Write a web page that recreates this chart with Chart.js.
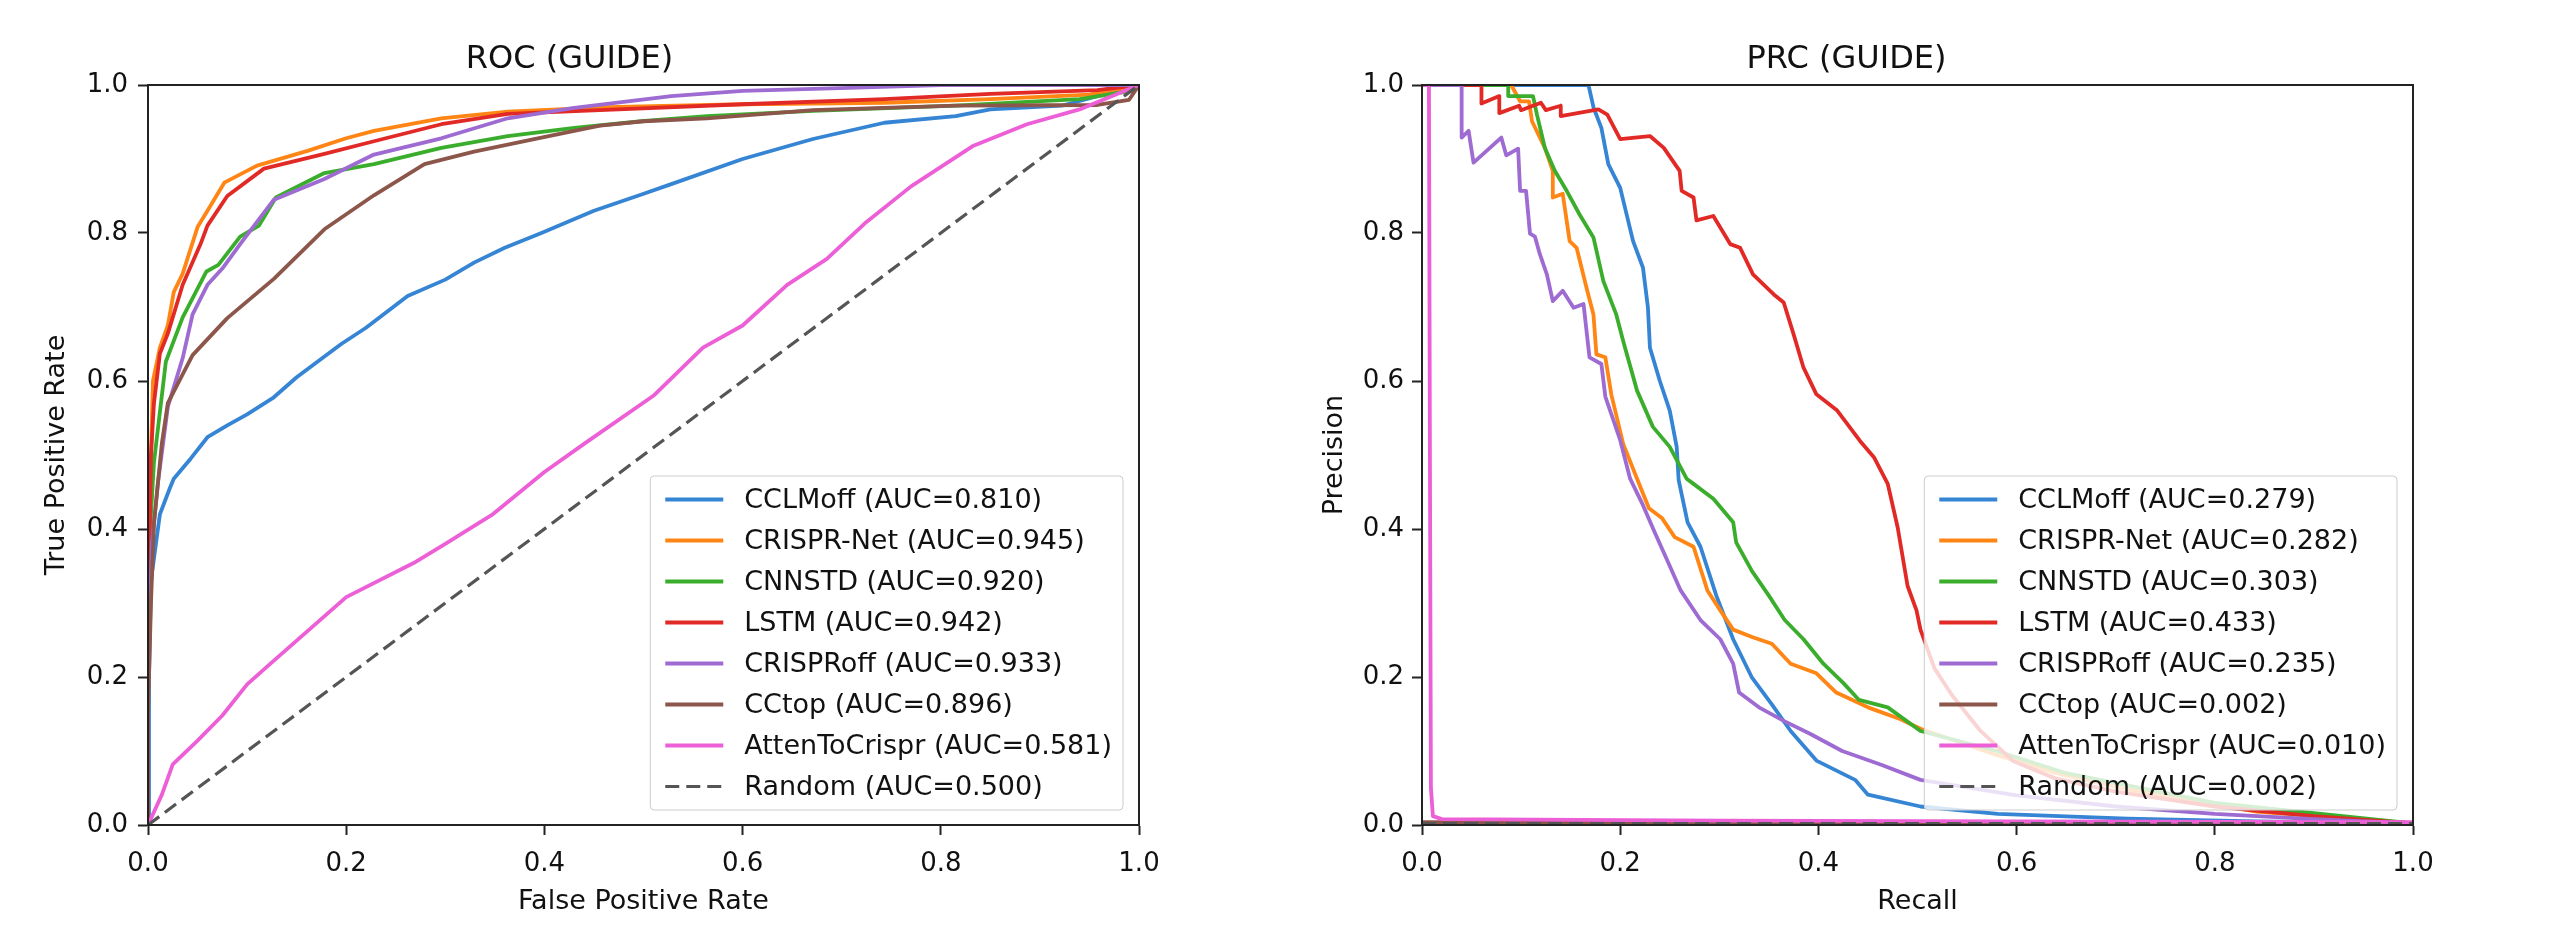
<!DOCTYPE html>
<html>
<head>
<meta charset="utf-8">
<script src="https://cdn.jsdelivr.net/npm/chart.js@4.4.1/dist/chart.umd.min.js"></script>
<style>
html, body { margin: 0; padding: 0; background: #fff; }
#wrap { position: relative; width: 2560px; height: 937px; background: #fff; }
canvas { position: absolute; top: 0; }
#rocChart { left: 0; }
#prcChart { left: 1280px; }
</style>
</head>
<body>
<div id="wrap">
  <canvas id="rocChart" width="1280" height="937"></canvas>
  <canvas id="prcChart" width="1280" height="937"></canvas>
</div>
<script>
// Donnees
const models = ["CCLMoff", "CRISPR-Net", "CNNSTD", "LSTM", "CRISPRoff", "CCtop", "AttenToCrispr", "Random"];
const rocAuc = ["0.810", "0.945", "0.920", "0.942", "0.933", "0.896", "0.581", "0.500"];
const prcAuc = ["0.279", "0.282", "0.303", "0.433", "0.235", "0.002", "0.010", "0.002"];
const tickValues = [0, 0.2, 0.4, 0.6, 0.8, 1.0];

// ROC : [FPR, TPR]
const rocCCLMoff = [[0,0],[0.001,0.2],[0.003,0.33],[0.006,0.36],[0.012,0.42],[0.022,0.455],[0.026,0.468],[0.043,0.495],[0.06,0.524],[0.08,0.54],[0.1,0.555],[0.127,0.578],[0.15,0.605],[0.195,0.65],[0.22,0.672],[0.262,0.715],[0.3,0.737],[0.329,0.76],[0.36,0.78],[0.397,0.8],[0.45,0.83],[0.498,0.852],[0.528,0.866],[0.6,0.9],[0.671,0.927],[0.743,0.949],[0.815,0.958],[0.85,0.967],[0.922,0.972],[0.958,0.985],[1,1]];
const rocCRISPRNet = [[0,0],[0,0.25],[0.002,0.45],[0.005,0.6],[0.012,0.645],[0.02,0.675],[0.026,0.72],[0.035,0.745],[0.05,0.808],[0.06,0.83],[0.077,0.868],[0.11,0.891],[0.161,0.911],[0.2,0.928],[0.228,0.938],[0.296,0.955],[0.363,0.964],[0.464,0.97],[0.6,0.974],[0.743,0.976],[0.85,0.981],[0.95,0.987],[1,1]];
const rocCNNSTD = [[0,0],[0,0.2],[0.003,0.42],[0.006,0.49],[0.018,0.626],[0.035,0.686],[0.059,0.748],[0.071,0.757],[0.093,0.795],[0.112,0.81],[0.129,0.848],[0.178,0.881],[0.228,0.893],[0.296,0.915],[0.363,0.931],[0.43,0.942],[0.498,0.951],[0.564,0.958],[0.671,0.965],[0.815,0.972],[0.94,0.981],[0.993,0.992],[1,1]];
const rocLSTM = [[0,0],[0,0.25],[0.003,0.5],[0.006,0.57],[0.012,0.637],[0.02,0.664],[0.035,0.73],[0.053,0.785],[0.06,0.81],[0.08,0.85],[0.117,0.887],[0.178,0.907],[0.228,0.924],[0.296,0.947],[0.363,0.961],[0.456,0.966],[0.6,0.974],[0.743,0.981],[0.85,0.988],[0.958,0.993],[1,1]];
const rocCRISPRoff = [[0,0],[0,0.2],[0.004,0.38],[0.01,0.462],[0.02,0.565],[0.035,0.631],[0.045,0.69],[0.06,0.73],[0.075,0.752],[0.093,0.785],[0.127,0.845],[0.178,0.873],[0.228,0.906],[0.296,0.928],[0.363,0.955],[0.43,0.969],[0.528,0.985],[0.6,0.992],[0.707,0.996],[0.8,1],[1,1]];
const rocCCtop = [[0,0],[0,0.15],[0.003,0.3],[0.006,0.407],[0.014,0.516],[0.02,0.57],[0.045,0.635],[0.08,0.685],[0.127,0.738],[0.178,0.805],[0.228,0.851],[0.279,0.893],[0.329,0.91],[0.397,0.929],[0.456,0.945],[0.5,0.951],[0.564,0.955],[0.671,0.966],[0.815,0.972],[0.958,0.973],[0.99,0.98],[1,1]];
const rocAttenToCrispr = [[0,0],[0.014,0.041],[0.025,0.082],[0.05,0.114],[0.075,0.148],[0.1,0.19],[0.121,0.215],[0.2,0.308],[0.268,0.354],[0.3,0.38],[0.347,0.419],[0.4,0.477],[0.44,0.515],[0.51,0.58],[0.56,0.645],[0.6,0.675],[0.645,0.73],[0.685,0.765],[0.725,0.815],[0.77,0.863],[0.833,0.918],[0.887,0.947],[0.94,0.967],[1,1]];
const rocRandom = [[0,0],[1,1]];

// PRC : [Recall, Precision]
const prcCCLMoff = [[0,1],[0.168,1],[0.173,0.97],[0.181,0.942],[0.188,0.893],[0.2,0.861],[0.213,0.789],[0.223,0.753],[0.228,0.699],[0.23,0.645],[0.24,0.6],[0.25,0.56],[0.257,0.511],[0.259,0.466],[0.268,0.409],[0.281,0.376],[0.297,0.31],[0.314,0.251],[0.333,0.199],[0.353,0.163],[0.372,0.127],[0.398,0.087],[0.437,0.061],[0.45,0.041],[0.503,0.025],[0.581,0.015],[0.712,0.0085],[0.842,0.005],[1,0.002]];
const prcCRISPRNet = [[0,1],[0.09,1],[0.099,0.978],[0.108,0.978],[0.111,0.951],[0.124,0.915],[0.132,0.884],[0.132,0.848],[0.142,0.853],[0.149,0.789],[0.156,0.78],[0.166,0.726],[0.173,0.69],[0.176,0.636],[0.185,0.632],[0.191,0.582],[0.203,0.515],[0.217,0.468],[0.229,0.428],[0.242,0.415],[0.255,0.389],[0.274,0.376],[0.288,0.317],[0.301,0.29],[0.314,0.264],[0.333,0.254],[0.353,0.245],[0.372,0.218],[0.398,0.205],[0.418,0.179],[0.45,0.159],[0.483,0.143],[0.503,0.13],[0.581,0.094],[0.646,0.068],[0.712,0.048],[0.842,0.018],[1,0.002]];
const prcCNNSTD = [[0,1],[0.087,1],[0.087,0.985],[0.112,0.985],[0.116,0.96],[0.124,0.915],[0.134,0.884],[0.146,0.857],[0.159,0.825],[0.173,0.794],[0.183,0.735],[0.196,0.69],[0.203,0.654],[0.217,0.587],[0.233,0.538],[0.25,0.511],[0.267,0.468],[0.274,0.461],[0.294,0.441],[0.314,0.409],[0.317,0.382],[0.333,0.343],[0.35,0.31],[0.366,0.277],[0.385,0.251],[0.405,0.218],[0.425,0.192],[0.441,0.169],[0.47,0.159],[0.503,0.127],[0.58,0.1],[0.65,0.07],[0.8,0.03],[1,0.002]];
const prcLSTM = [[0,1],[0.06,1],[0.06,0.975],[0.078,0.985],[0.078,0.962],[0.098,0.972],[0.1,0.966],[0.12,0.976],[0.125,0.966],[0.14,0.972],[0.14,0.958],[0.178,0.967],[0.187,0.96],[0.2,0.927],[0.23,0.931],[0.244,0.915],[0.26,0.884],[0.262,0.857],[0.274,0.848],[0.277,0.817],[0.294,0.823],[0.311,0.785],[0.321,0.78],[0.334,0.744],[0.355,0.717],[0.365,0.706],[0.375,0.663],[0.385,0.618],[0.398,0.582],[0.419,0.56],[0.442,0.519],[0.456,0.497],[0.47,0.461],[0.48,0.402],[0.49,0.323],[0.499,0.29],[0.503,0.264],[0.517,0.212],[0.535,0.175],[0.563,0.128],[0.597,0.086],[0.639,0.063],[0.7,0.045],[0.8,0.025],[0.9,0.012],[1,0.002]];
const prcCRISPRoff = [[0,1],[0.04,1],[0.04,0.929],[0.047,0.938],[0.052,0.895],[0.08,0.929],[0.085,0.905],[0.097,0.914],[0.099,0.857],[0.105,0.857],[0.109,0.799],[0.114,0.795],[0.119,0.771],[0.126,0.744],[0.132,0.708],[0.142,0.722],[0.153,0.699],[0.163,0.704],[0.169,0.632],[0.181,0.623],[0.185,0.579],[0.2,0.52],[0.21,0.468],[0.222,0.435],[0.235,0.395],[0.248,0.356],[0.261,0.317],[0.281,0.277],[0.301,0.251],[0.314,0.218],[0.32,0.179],[0.34,0.159],[0.366,0.14],[0.392,0.123],[0.424,0.1],[0.464,0.081],[0.503,0.061],[0.6,0.04],[0.7,0.025],[0.8,0.015],[0.9,0.008],[1,0.002]];
const prcCCtop = [[0,0.004],[0.3,0.003],[0.7,0.003],[1,0.002]];
const prcAttenToCrispr = [[0,1],[0.007,1],[0.008,0.5],[0.009,0.05],[0.011,0.012],[0.02,0.008],[0.3,0.006],[0.6,0.005],[1,0.004]];
const prcRandom = [[0,0.002],[1,0.002]];

const rocCurves = [rocCCLMoff, rocCRISPRNet, rocCNNSTD, rocLSTM, rocCRISPRoff, rocCCtop, rocAttenToCrispr, rocRandom];
const prcCurves = [prcCCLMoff, prcCRISPRNet, prcCNNSTD, prcLSTM, prcCRISPRoff, prcCCtop, prcAttenToCrispr, prcRandom];

// Styles
const lineColors = ["#3585d4", "#ff8514", "#3aae2c", "#e12a26", "#9d6bd1", "#8c564b", "#ec5fd6", "#555555"];
const FONT = "DejaVu Sans";
const INK = "#111111";

// Legende dans la zone du graphe (coin bas droit)
const insideLegend = {
    id: "insideLegend",
    afterDatasetsDraw(chart) {
        const ctx = chart.ctx;
        const area = chart.chartArea;
        const sets = chart.data.datasets;
        const rowH = 41;
        ctx.save();
        ctx.font = "27px '" + FONT + "'";
        let maxW = 0;
        sets.forEach(ds => { maxW = Math.max(maxW, ctx.measureText(ds.label).width); });
        const w = 15 + 58 + 21 + maxW + 11;
        const h = sets.length * rowH + 6;
        const x0 = area.right - 16 - w;
        const y0 = area.bottom - 15 - h;
        ctx.beginPath();
        ctx.roundRect(x0, y0, w, h, 4);
        ctx.fillStyle = "rgba(255,255,255,0.8)";
        ctx.fill();
        ctx.lineWidth = 1;
        ctx.strokeStyle = "#cccccc";
        ctx.stroke();
        sets.forEach((ds, i) => {
            const cy = y0 + 3 + rowH * i + rowH / 2;
            ctx.beginPath();
            ctx.setLineDash(ds.borderDash || []);
            ctx.strokeStyle = ds.borderColor;
            ctx.lineWidth = ds.borderWidth;
            ctx.moveTo(x0 + 15, cy);
            ctx.lineTo(x0 + 73, cy);
            ctx.stroke();
            ctx.setLineDash([]);
            ctx.fillStyle = INK;
            ctx.textBaseline = "middle";
            ctx.textAlign = "left";
            ctx.fillText(ds.label, x0 + 94, cy + 1);
        });
        ctx.restore();
    }
};

// Cadre complet autour des axes
const frameBox = {
    id: "frameBox",
    afterDraw(chart) {
        const a = chart.chartArea;
        const ctx = chart.ctx;
        ctx.save();
        ctx.strokeStyle = "#222";
        ctx.lineWidth = 2;
        ctx.strokeRect(a.left, a.top, a.right - a.left, a.bottom - a.top);
        ctx.restore();
    }
};

function makeDatasets(curves, aucs) {
    return models.map((name, i) => ({
        label: name + " (AUC=" + aucs[i] + ")",
        data: curves[i].map(p => ({ x: p[0], y: p[1] })),
        borderColor: lineColors[i],
        backgroundColor: lineColors[i],
        borderWidth: name === "Random" ? 3.2 : 3.8,
        borderDash: name === "Random" ? [14, 7] : [],
        borderJoinStyle: "round",
        pointRadius: 0,
        showLine: true,
        fill: false,
        tension: 0,
        order: models.length - i
    }));
}

function axis(titleText, titlePad, tickPad, fixedSize, horizontal) {
    return {
        type: "linear",
        min: 0,
        max: 1,
        afterBuildTicks: scale => { scale.ticks = tickValues.map(v => ({ value: v })); },
        afterFit: scale => {
            if (horizontal) scale.height = fixedSize; else scale.width = fixedSize;
        },
        grid: { drawOnChartArea: false, drawTicks: true, tickLength: 10, tickWidth: 2, tickColor: "#222" },
        border: { display: true, color: "#222", width: 2 },
        ticks: {
            padding: tickPad,
            color: INK,
            font: { family: FONT, size: 26 },
            callback: v => Number(v).toFixed(1)
        },
        title: {
            display: true,
            text: titleText,
            color: INK,
            font: { family: FONT, size: 27 },
            padding: horizontal ? { top: 0, bottom: titlePad } : { top: titlePad, bottom: 0 }
        }
    };
}

function initCurveChart(canvasId, titleText, xTitle, yTitle, curves, aucs, areaLeft, areaRight, yTitlePad, yTickPad) {
    const ctx = document.getElementById(canvasId).getContext("2d");
    return new Chart(ctx, {
        type: "scatter",
        data: { datasets: makeDatasets(curves, aucs) },
        options: {
            responsive: false,
            animation: false,
            devicePixelRatio: 1,
            events: [],
            layout: { padding: { left: 0, right: 1280 - areaRight, top: 0, bottom: 0 } },
            plugins: {
                legend: { display: false },
                tooltip: { enabled: false },
                title: {
                    display: true,
                    text: titleText,
                    color: INK,
                    font: { family: FONT, size: 32, weight: "normal" },
                    padding: { top: 40, bottom: 6.6 }
                }
            },
            scales: {
                x: axis(xTitle, 19, 14, 112, true),
                y: axis(yTitle, yTitlePad, yTickPad, areaLeft, false)
            }
        },
        plugins: [insideLegend, frameBox]
    });
}

document.addEventListener("DOMContentLoaded", () => {
    initCurveChart("rocChart", "ROC (GUIDE)", "False Positive Rate", "True Positive Rate", rocCurves, rocAuc, 148, 1139, 41, 10);
    initCurveChart("prcChart", "PRC (GUIDE)", "Recall", "Precision", prcCurves, prcAuc, 142, 1133, 39, 8);
});
</script>
</body>
</html>
